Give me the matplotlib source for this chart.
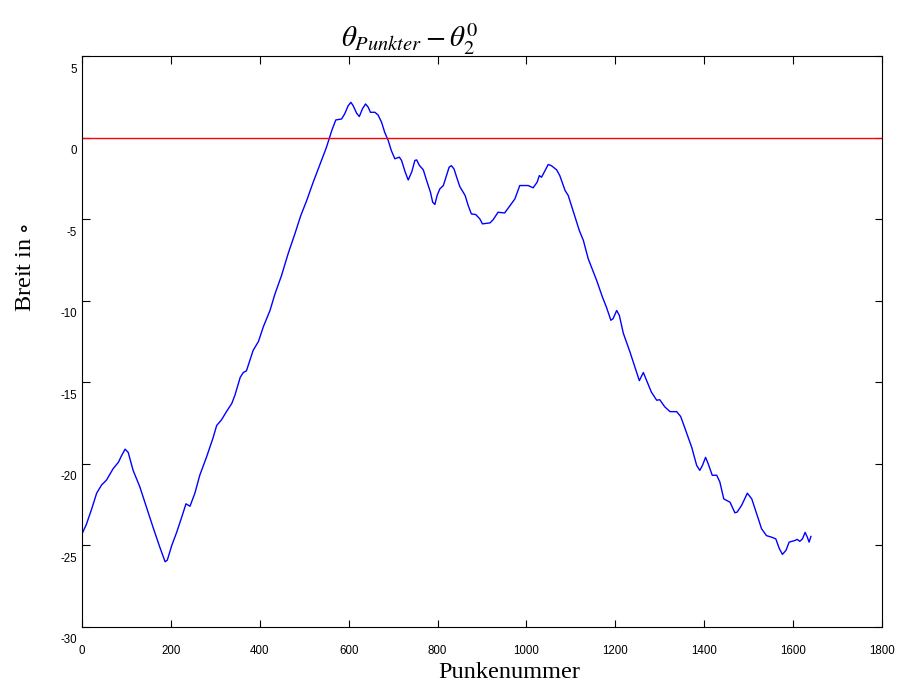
import numpy as np
import matplotlib
matplotlib.use('Agg')
import matplotlib.pyplot as plt
import matplotlib.transforms as mtransforms

plt.rcParams['mathtext.fontset'] = 'stix'
plt.rcParams['font.family'] = ['Liberation Sans', 'DejaVu Sans']

# Punktnummer / Breite
punkt = [0, 10, 22, 33, 44, 55, 70, 82, 89, 97, 104, 115, 130, 145, 160, 175, 187, 192,
         202, 213, 224, 234, 243, 254, 265, 280, 295, 303, 314, 325, 337, 344, 356, 363,
         370, 385, 397, 408, 423, 434, 449, 464, 479, 492, 505, 520, 536, 550, 562, 571,
         584, 591, 599, 605, 610, 618, 624, 631, 638, 644, 649, 659, 666, 674, 681, 689,
         696, 704, 714, 719, 727, 734, 742, 749, 753, 759, 768, 775, 784, 789, 794, 799,
         805, 813, 820, 826, 831, 837, 843, 850, 862, 869, 876, 886, 895, 901, 918, 925,
         936, 951, 963, 974, 985, 1004, 1015, 1024, 1029, 1034, 1042, 1049, 1056, 1068,
         1075, 1087, 1094, 1105, 1119, 1128, 1139, 1158, 1171, 1180, 1190, 1195, 1203,
         1209, 1218, 1233, 1244, 1254, 1263, 1272, 1281, 1293, 1300, 1311, 1323, 1338,
         1347, 1357, 1372, 1383, 1390, 1396, 1403, 1409, 1418, 1428, 1435, 1444, 1458,
         1469, 1474, 1484, 1497, 1507, 1518, 1529, 1540, 1552, 1561, 1569, 1576, 1584,
         1591, 1604, 1609, 1615, 1621, 1627, 1632, 1636, 1640]
breite = [-24.3, -23.7, -22.75, -21.8, -21.3, -21.0, -20.3, -19.9, -19.5, -19.1, -19.3,
          -20.4, -21.4, -22.65, -23.9, -25.1, -26.0, -25.9, -25.0, -24.2, -23.3, -22.45,
          -22.6, -21.8, -20.7, -19.6, -18.4, -17.65, -17.3, -16.8, -16.3, -15.8, -14.7,
          -14.4, -14.3, -13.05, -12.5, -11.6, -10.6, -9.6, -8.45, -7.1, -5.9, -4.8, -3.9,
          -2.75, -1.6, -0.6, 0.43, 1.08, 1.14, 1.45, 1.96, 2.16, 1.96, 1.49, 1.29, 1.76,
          2.06, 1.86, 1.55, 1.55, 1.39, 0.94, 0.33, -0.18, -0.8, -1.3, -1.2, -1.4, -2.1,
          -2.6, -2.1, -1.4, -1.37, -1.7, -1.98, -2.6, -3.35, -3.96, -4.1, -3.55, -3.15,
          -2.94, -2.33, -1.82, -1.72, -1.92, -2.43, -3.0, -3.55, -4.17, -4.68, -4.72,
          -4.98, -5.29, -5.23, -5.04, -4.58, -4.62, -4.17, -3.76, -2.94, -2.94, -3.08,
          -2.74, -2.33, -2.43, -2.02, -1.65, -1.72, -1.98, -2.33, -3.25, -3.55, -4.5,
          -5.7, -6.3, -7.43, -8.76, -9.78, -10.4, -11.2, -11.1, -10.6, -10.9, -12.0,
          -13.15, -14.07, -14.9, -14.4, -15.0, -15.6, -16.1, -16.07, -16.5, -16.8, -16.8,
          -17.1, -17.85, -19.0, -20.1, -20.4, -20.1, -19.6, -20.0, -20.7, -20.7, -21.1,
          -22.15, -22.35, -23.0, -22.96, -22.55, -21.8, -22.15, -23.06, -23.98, -24.4,
          -24.5, -24.6, -25.2, -25.55, -25.3, -24.8, -24.7, -24.63, -24.75, -24.6, -24.2,
          -24.5, -24.8, -24.45]
ref_level = 0.0

x_ticks = [0, 200, 400, 600, 800, 1000, 1200, 1400, 1600, 1800]
y_ticks = [-30, -25, -20, -15, -10, -5, 0, 5]

fig = plt.figure(figsize=(8.98, 6.88), dpi=100)
ax = fig.add_axes([0.0913, 0.0887, 0.8909, 0.8299])

ax.plot(punkt, breite, color='blue', linewidth=1.0)
ax.axhline(ref_level, color='red', linewidth=1.0)

ax.set_xlim(0, 1800)
ax.set_ylim(-30, 5)
ax.set_xticks(x_ticks)
ax.set_yticks(y_ticks)
ax.set_xticklabels([str(v) for v in x_ticks])
ax.set_yticklabels([str(v) for v in y_ticks])
ax.tick_params(direction='in', length=5.4, width=0.8, top=True, right=True,
               labelsize=8.3)
ax.tick_params(axis='x', pad=13)
ax.tick_params(axis='y', pad=3.6)
for sp in ax.spines.values():
    sp.set_linewidth(0.8)

# y-Beschriftungen sitzen etwas unterhalb der Striche
offset = mtransforms.ScaledTranslation(0, -0.12, fig.dpi_scale_trans)
for t in ax.yaxis.get_major_ticks():
    t.label1.set_transform(t.label1.get_transform() + offset)

ax.set_title(r'$\theta_{Punkter} - \theta_2^0$', fontsize=21, x=0.41, pad=6)
ax.set_xlabel('Punkenummer', family='Liberation Serif', fontsize=17.5)
ax.xaxis.set_label_coords(0.534, -0.062)
ax.set_ylabel(r'Breit in $\circ$', family='Liberation Serif', fontsize=17.5)
ax.yaxis.set_label_coords(-0.057, 0.63)

fig.savefig('out.png', dpi=100)
